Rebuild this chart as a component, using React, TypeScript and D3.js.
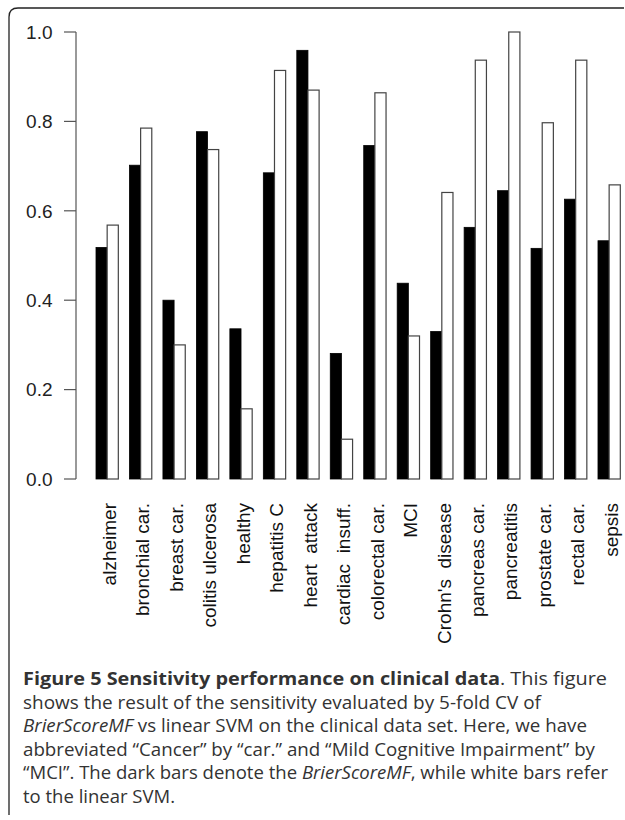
import React from "react";
import * as d3 from "d3";

const categories = [
  "alzheimer", "bronchial car.", "breast car.", "colitis ulcerosa", "healthy",
  "hepatitis C", "heart  attack", "cardiac  insuff.", "colorectal car.", "MCI",
  "Crohn's  disease", "pancreas car.", "pancreatitis", "prostate car.", "rectal car.", "sepsis",
];
const brierScoreMF = [0.518, 0.702, 0.400, 0.777, 0.336, 0.685, 0.959, 0.281, 0.746, 0.438, 0.330, 0.563, 0.645, 0.516, 0.626, 0.533];
const linearSVM = [0.568, 0.785, 0.300, 0.737, 0.157, 0.914, 0.870, 0.089, 0.864, 0.320, 0.641, 0.937, 1.0, 0.797, 0.937, 0.658];
const yTicks = [0, 0.2, 0.4, 0.6, 0.8, 1.0];

const W = 625;
const H = 820;

export default function App() {
  const n = categories.length;
  const x = d3.scaleLinear().domain([0, 3 * n]).range([84.85, 620.3]);
  const y = d3.scaleLinear().domain([0, 1]).range([479, 32]);
  const unit = x(1) - x(0);
  const axisX = 76;
  const fontAxis = "'Liberation Sans', Arial, sans-serif";
  const capFont = "'Open Sans', sans-serif";
  const capX = 23;
  const capLines = [
    { end: 607, parts: [{ t: "Figure 5 Sensitivity performance on clinical data", w: "bold" }, { t: ". This figure" }] },
    { end: 541, parts: [{ t: "shows the result of the sensitivity evaluated by 5-fold CV of" }] },
    { end: 587, parts: [{ t: "BrierScoreMF", i: true }, { t: " vs linear SVM on the clinical data set. Here, we have" }] },
    { end: 595, parts: [{ t: "abbreviated \u201CCancer\u201D by \u201Ccar.\u201D and \u201CMild Cognitive Impairment\u201D by" }] },
    { end: 608, parts: [{ t: "\u201CMCI\u201D. The dark bars denote the " }, { t: "BrierScoreMF", i: true }, { t: ", while white bars refer" }] },
    { end: 175, parts: [{ t: "to the linear SVM." }] },
  ] as { end: number; parts: { t: string; w?: string; i?: boolean }[] }[];
  const capBase = 685;
  const capStep = 23.5;

  return (
    <svg width={W} height={H} style={{ position: "absolute", left: 0, top: 0 }} xmlns="http://www.w3.org/2000/svg">
      <rect x={0} y={0} width={W} height={H} fill="#fff" />
      {/* frame */}
      <path d="M9,815 V17 Q9,8 18,8 H624" fill="none" stroke="#222" strokeWidth={1.3} />

      {/* y axis */}
      <line x1={axisX} x2={axisX} y1={y(0)} y2={y(1)} stroke="#555" strokeWidth={1.2} />
      {yTicks.map((t) => (
        <g key={t}>
          <line x1={64} x2={axisX} y1={y(t)} y2={y(t)} stroke="#555" strokeWidth={1.2} />
          <text x={52.5} y={y(t)} dy="0.36em" textAnchor="end" fontFamily={fontAxis} fontSize={19} fill="#222">
            {t.toFixed(1)}
          </text>
        </g>
      ))}

      {/* bars */}
      {categories.map((c, i) => {
        const b0 = x(1 + 3 * i);
        const w0 = x(2 + 3 * i);
        return (
          <g key={c}>
            <rect x={b0} y={y(brierScoreMF[i])} width={unit} height={y(0) - y(brierScoreMF[i])} fill="#000" stroke="#000" strokeWidth={0.8} />
            <rect x={w0} y={y(linearSVM[i])} width={unit} height={y(0) - y(linearSVM[i])} fill="#fff" stroke="#444" strokeWidth={1.2} />
            <text
              transform={`translate(${x(2 + 3 * i)},503) rotate(-90)`}
              dy="0.46em"
              textAnchor="end"
              fontFamily={fontAxis}
              fontSize={19}
              fill="#111"
              style={{ whiteSpace: "pre" }}
            >
              {c}
            </text>
          </g>
        );
      })}

      {/* caption */}
      {capLines.map((ln, k) => (
        <text
          key={k}
          x={capX}
          y={capBase + k * capStep}
          fontFamily={capFont}
          fontSize={18}
          fill="#333"
          textLength={ln.end - capX}
          lengthAdjust="spacingAndGlyphs"
        >
          {ln.parts.map((p, j) => (
            <tspan key={j} fontWeight={p.w || "normal"} fontStyle={p.i ? "italic" : "normal"}>
              {p.t}
            </tspan>
          ))}
        </text>
      ))}
    </svg>
  );
}
